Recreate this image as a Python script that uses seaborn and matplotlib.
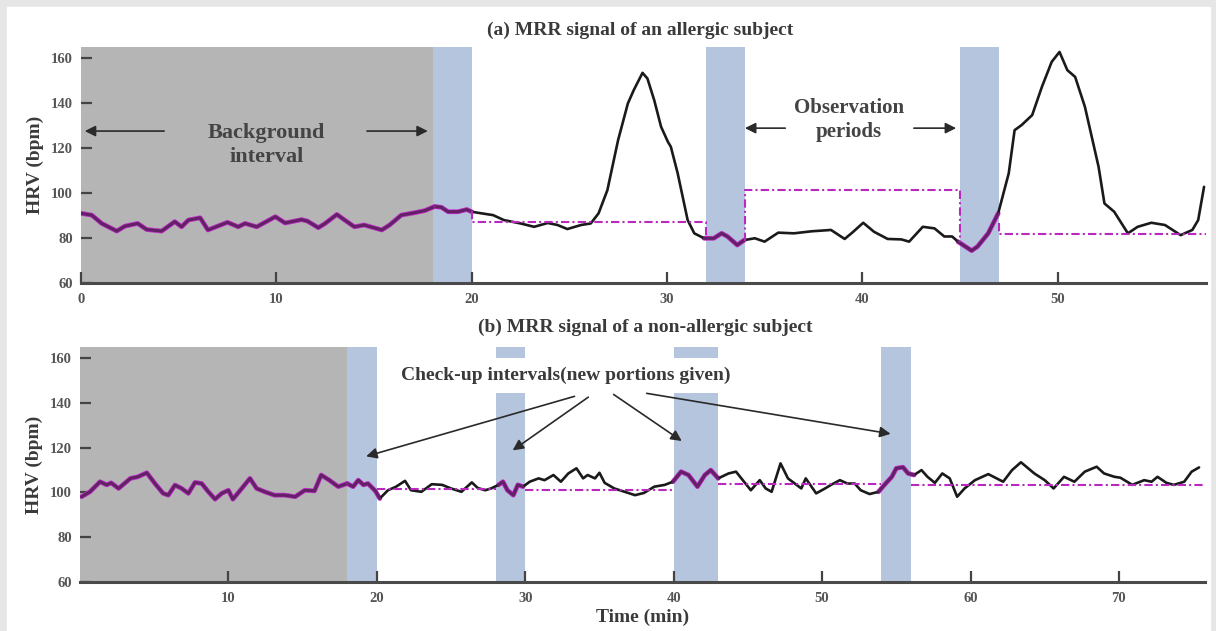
import matplotlib
matplotlib.use("Agg")
import matplotlib.pyplot as plt
from matplotlib.patches import Rectangle
import seaborn as sns
import numpy as np
import pandas as pd

# (a) allergic subject - time (min) and HRV (bpm)
t_a = [0.0, 0.55, 1.06, 1.83, 2.25, 2.9, 3.36, 4.13, 4.8, 5.15, 5.5, 6.1, 6.5, 7.5, 8.05,
       8.4, 9.0, 9.95, 10.45, 11.3, 11.6, 12.15, 12.5, 13.1, 13.5, 14.0, 14.5, 15.4, 15.8,
       16.4, 17.1, 17.6, 18.1, 18.45, 18.8, 19.3, 19.75, 20.0, 20.5, 21.1, 21.65, 22.5,
       23.2, 23.9, 24.4, 24.9, 25.6, 26.1, 26.5, 26.95, 27.5, 28.0, 28.3, 28.75, 29.0,
       29.35, 29.7, 30.05, 30.2, 30.55, 31.06, 31.4, 31.9, 32.4, 32.8, 33.1, 33.6, 33.96,
       34.5, 35.0, 35.7, 36.5, 37.4, 38.4, 39.1, 39.5, 40.05, 40.6, 41.3, 42.0, 42.4,
       43.1, 43.7, 44.2, 44.6, 44.9, 45.6, 45.9, 46.45, 46.96, 47.5, 47.8, 48.15, 48.7,
       49.2, 49.7, 50.1, 50.5, 50.9, 51.4, 52.1, 52.4, 52.9, 53.6, 54.1, 54.8, 55.5,
       56.3, 56.9, 57.2, 57.5]
hrv_a = [91, 90.2, 86.5, 83.1, 85.3, 86.5, 83.8, 83.1, 87.3, 85, 88, 89, 83.6, 87, 85,
         86.5, 85, 89.5, 86.7, 88.2, 87.5, 84.6, 86.5, 90.5, 88, 85, 85.8, 83.6, 85.8,
         90.2, 91.3, 92.2, 94, 93.7, 91.7, 91.7, 92.7, 91.7, 91, 90.2, 88, 86.5,
         85, 86.7, 85.8, 84, 85.8, 86.5, 91, 101.3, 123.6, 139.9, 145.8, 153.5, 151,
         141.3, 129.5, 122.8, 120.6, 108.8, 88, 82.1, 79.9, 79.9, 82.1, 80.7, 76.9, 79.1,
         79.9, 78.4, 82.4, 82.1, 83, 83.6, 79.6, 82.5, 86.8, 82.8, 79.6, 79.4, 78.4,
         85, 84.3, 80.7, 80.7, 78.4, 74.4, 76.2, 82.1, 91, 108.8, 128, 130.2, 134.7,
         147.3, 158.4, 162.8, 154.7, 151.7, 138.4, 111.7, 95.4, 91.7, 82.1, 85, 86.8, 85.8,
         81.3, 83.6, 88, 102.8]
ref_a_x = [20, 20, 32, 32, np.nan, 34, 34, 45, 45, np.nan, 47, 47, 57.6]
ref_a_y = [92, 87.3, 87.3, 80, np.nan, 78.5, 101.3, 101.3, 78.4, np.nan, 86.5, 81.8, 81.8]
bands_a = [(18, 20), (32, 34), (45, 47)]

# (b) non-allergic subject
t_b = [0.1, 0.67, 1.35, 1.8, 2.1, 2.6, 3.4, 3.9, 4.5, 5.05, 5.6, 5.95, 6.4, 6.85, 7.3,
       7.75, 8.2, 8.65, 9.1, 9.55, 10.0, 10.3, 10.9, 11.45, 11.9, 12.45, 13.1, 13.8, 14.5,
       15.15, 15.8, 16.25, 16.8, 17.4, 18.0, 18.4, 18.75, 19.1, 19.4, 19.9, 20.2, 20.75,
       21.3, 21.9, 22.3, 23.0, 23.7, 24.4, 25.0, 25.7, 26.4, 26.8, 27.3, 27.7, 28.2, 28.5,
       28.8, 29.2, 29.5, 29.85, 30.3, 30.9, 31.3, 31.9, 32.4, 32.9, 33.45, 33.9, 34.2,
       34.7, 35.0, 35.35, 36.0, 36.7, 37.4, 38.0, 38.7, 39.4, 39.95, 40.5, 41.0, 41.6,
       42.1, 42.5, 43.0, 43.7, 44.2, 44.8, 45.2, 45.8, 46.2, 46.6, 47.2, 47.7, 48.1, 48.6,
       48.9, 49.6, 50.2, 50.6, 51.2, 51.7, 52.2, 52.6, 53.2, 53.8, 54.2, 54.7, 55.0, 55.45,
       55.8, 56.2, 56.7, 57.1, 57.6, 58.1, 58.6, 59.1, 59.6, 60.3, 61.2, 62.2, 62.8, 63.4,
       64.3, 65.0, 65.6, 66.3, 67.0, 67.7, 68.5, 69.0, 69.7, 70.1, 70.9, 71.7, 72.2, 72.6,
       73.2, 73.7, 74.4, 74.9, 75.4]
hrv_b = [98.1, 100.3, 104.8, 103.4, 104.3, 101.8, 106.3, 107, 108.8, 104, 99.6, 98.8, 103.3,
         101.8, 99.6, 104.5, 104, 100.3, 97, 99.6, 101, 97, 101.8, 106.3, 101.8, 100.3, 98.8,
         98.8, 98.1, 101, 100.7, 107.8, 105.5, 102.6, 104, 102.6, 105.5, 103.4, 104, 100.7,
         97.3, 101, 102.6, 105.2, 101, 100.3, 103.7, 103.4, 101.8, 100.3, 104.5, 102, 101,
         101.8, 103.4, 104.8, 101, 98.8, 103.4, 102.6, 104.8, 106.3, 105.5, 107.8, 104.8,
         108.5, 110.8, 106.3, 107.8, 106.3, 108.8, 104.3, 101.8, 100.3, 98.8, 99.8, 102.6,
         103.4, 104.8, 109.3, 107.8, 102.6, 107.8, 110, 106.3, 108.5, 109.3, 104.3, 101,
         105.5, 101.8, 100.3, 113, 106.3, 104.3, 101.8, 106.3, 99.6, 101.8, 103.4, 105.5,
         104, 104, 101, 99.3, 100.3, 103.4, 107, 110.8, 111.3, 108.5, 107.8, 110, 107,
         104.3, 108.5, 106.3, 98.1, 101.8, 105.5, 108.2, 104.8, 110, 113.5, 108.5, 105.5,
         101.8, 107, 104.8, 109.3, 111.5, 108.5, 107, 106.6, 103.4, 105.5, 104.8, 107,
         104.3, 103.4, 104.8, 109.3, 111.2]
ref_b_x = [20, 28, np.nan, 30, 40, np.nan, 43, 54, np.nan, 56, 75.8]
ref_b_y = [101.5, 101.5, np.nan, 101, 101, np.nan, 104, 104, np.nan, 103.5, 103.5]
bands_b = [(18, 20), (28, 30), (40, 43), (54, 56)]

GRAY = "#b5b5b5"
BLUE = "#b6c5de"
MAG = "#b82abf"
TXT = "#3a3a3a"

sns.set_theme(style="white")
plt.rcParams["font.family"] = ["Liberation Serif", "DejaVu Serif"]
plt.rcParams["font.weight"] = "bold"

fig = plt.figure(figsize=(12.16, 6.31), dpi=100, facecolor="#e6e6e6")
fig.patches.append(Rectangle((7 / 1216, 0), 1203 / 1216, 624 / 631,
                             transform=fig.transFigure, color="white", zorder=-10))
ax1 = fig.add_axes([81 / 1216, 1 - 283 / 631, 1125 / 1216, 236 / 631])
ax2 = fig.add_axes([80 / 1216, 1 - 582 / 631, 1125 / 1216, 235 / 631])


def draw_panel(ax, t, hrv, ref_x, ref_y, bands, xmax):
    ax.set_facecolor("none")
    ax.axvspan(0, 18, color=GRAY, lw=0, zorder=0)
    for a, b in bands:
        ax.axvspan(a, b, color=BLUE, lw=0, zorder=0)
    df = pd.DataFrame({"t": t, "hrv": hrv})
    segs = [(0, 18)] + bands
    # magenta halo under the signal on background and check-up intervals
    for a, b in segs:
        seg = df[(df.t >= a - 0.2) & (df.t <= b + 0.2)]
        sns.lineplot(data=seg, x="t", y="hrv", ax=ax, color=MAG, lw=3.4,
                     estimator=None, sort=False, zorder=2)
    sns.lineplot(data=df, x="t", y="hrv", ax=ax, color="#1a1a1a", lw=1.9,
                 estimator=None, sort=False, zorder=3)
    for a, b in segs:
        seg = df[(df.t >= a - 0.2) & (df.t <= b + 0.2)]
        sns.lineplot(data=seg, x="t", y="hrv", ax=ax, color=MAG, lw=1.9, alpha=0.45,
                     estimator=None, sort=False, zorder=4)
    ax.plot(ref_x, ref_y, color=MAG, lw=1.5, ls=(0, (4, 1.5, 1, 1.5)), zorder=4)
    ax.set_xlim(0, xmax)
    ax.set_ylim(60, 165)
    ax.set_yticks([60, 80, 100, 120, 140, 160])
    ax.set_ylabel("HRV (bpm)", fontsize=14, color=TXT, fontweight="bold")
    ax.yaxis.set_label_coords(-0.033, 0.5)
    ax.tick_params(axis="both", direction="in", length=8, width=1.6, color="#444",
                   labelsize=10.5, labelcolor="#555")
    ax.tick_params(axis="x", pad=7, bottom=True)
    ax.tick_params(axis="y", pad=6, left=True)
    for s in ["top", "right", "left"]:
        ax.spines[s].set_visible(False)
    ax.spines["bottom"].set_color("#4a4a4a")
    ax.spines["bottom"].set_linewidth(2.2)
    ax.spines["bottom"].set_zorder(6)


draw_panel(ax1, t_a, hrv_a, ref_a_x, ref_a_y, bands_a, 57.6)
ax1.set_xticks([0, 10, 20, 30, 40, 50])
ax1.set_xlabel("")

draw_panel(ax2, t_b, hrv_b, ref_b_x, ref_b_y, bands_b, 75.8)
ax2.set_xticks([10, 20, 30, 40, 50, 60, 70])
ax2.set_xlabel("Time (min)", fontsize=14, color=TXT, fontweight="bold", labelpad=3)

fig.text(640 / 1216, 1 - 30 / 631, "(a) MRR signal of an allergic subject",
         ha="center", va="center", fontsize=14, color=TXT, fontweight="bold")
fig.text(645 / 1216, 1 - 327 / 631, "(b) MRR signal of a non-allergic subject",
         ha="center", va="center", fontsize=14, color=TXT, fontweight="bold")

arrow = dict(arrowstyle="-|>", color="#2a2a2a", lw=1.2, mutation_scale=16)

# panel (a) annotations
ax1.text(9.5, 121.5, "Background\ninterval", ha="center", va="center", fontsize=16,
         color="#444", fontweight="bold", linespacing=1.25, zorder=7)
ax1.annotate("", xy=(0.05, 127.6), xytext=(4.4, 127.6), arrowprops=arrow, zorder=7)
ax1.annotate("", xy=(17.9, 127.6), xytext=(14.5, 127.6), arrowprops=arrow, zorder=7)
ax1.text(39.3, 132.5, "Observation\nperiods", ha="center", va="center", fontsize=15,
         color="#444", fontweight="bold", linespacing=1.3, zorder=7)
ax1.annotate("", xy=(33.85, 128.9), xytext=(36.2, 128.9), arrowprops=arrow, zorder=7)
ax1.annotate("", xy=(44.95, 128.9), xytext=(42.5, 128.9), arrowprops=arrow, zorder=7)

# panel (b) annotations
ax2.text(32.7, 152.3, "Check-up intervals(new portions given)", ha="center", va="center",
         fontsize=14, color=TXT, fontweight="bold", zorder=7,
         bbox=dict(boxstyle="square,pad=0.45", fc="white", ec="none"))
for tail, head in [((33.5, 143.3), (19.1, 115.8)), ((34.4, 143.3), (29.0, 118.1)),
                   ((35.8, 144.5), (40.7, 122.3)), ((38.0, 144.5), (54.8, 126.0))]:
    ax2.annotate("", xy=head, xytext=tail, arrowprops=arrow, zorder=7)

fig.savefig("out.png", dpi=100, facecolor=fig.get_facecolor())
